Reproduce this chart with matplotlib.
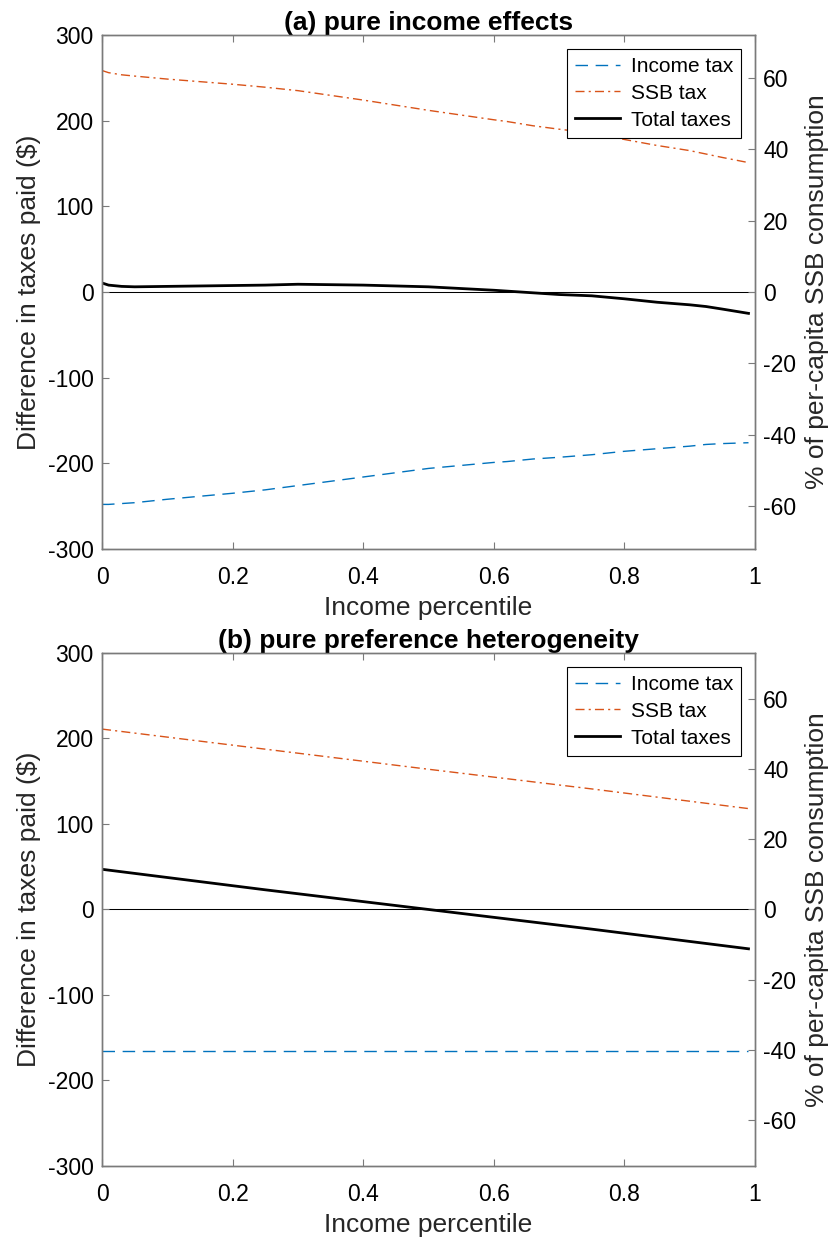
import numpy as np
import matplotlib
matplotlib.use("Agg")
import matplotlib.pyplot as plt

plt.rcParams['font.family'] = ['Liberation Sans', 'DejaVu Sans']
plt.rcParams['axes.unicode_minus'] = False

# panel (a): pure income effects
pctl_a = [0, 0.01, 0.03, 0.05, 0.1, 0.2, 0.25, 0.3, 0.4, 0.5, 0.6, 0.62,
          0.66, 0.7, 0.75, 0.8, 0.85, 0.9, 0.925, 0.95, 0.99]
income_a = [-248, -248, -247, -246, -242, -235, -231, -226, -216, -206, -199, -198,
            -195, -193, -190, -186, -183, -180, -178, -177, -176]
ssb_a = [258.5, 256, 253.5, 252, 248.5, 242.5, 239, 235, 224, 212, 201, 199,
         194, 190, 185.5, 178, 171, 165, 161, 157, 151]
total_a = [10.5, 8, 6.5, 6, 6.5, 7.5, 8, 9, 8, 6, 2, 1,
           -1, -3, -4.5, -8, -12, -15, -17, -20, -25]

# panel (b): pure preference heterogeneity
pctl_b = [0, 0.25, 0.5, 0.75, 0.99]
income_b = [-165, -165, -165, -165, -165]
ssb_b = [211, 187.5, 164, 141, 118]
total_b = [47, 23, 0, -23, -46]

titles = ['(a) pure income effects', '(b) pure preference heterogeneity']
right_lims = [72, 73]
xticks = [0, 0.2, 0.4, 0.6, 0.8, 1]
xticklabels = ['0', '0.2', '0.4', '0.6', '0.8', '1']
yticks = [-300, -200, -100, 0, 100, 200, 300]
rticks = [-60, -40, -20, 0, 20, 40, 60]

BLUE = '#0072BD'
ORANGE = '#D95319'
FRAME = '#7a7a7a'
TXT = '#262626'

fig = plt.figure(figsize=(8.39, 12.4), dpi=100)
boxes = [[0.1216, 0.5573, 0.7783, 0.4145], [0.1216, 0.0597, 0.7783, 0.4137]]
panels = [(pctl_a, income_a, ssb_a, total_a), (pctl_b, income_b, ssb_b, total_b)]

for box, (x, inc, ssb, tot), title, rlim in zip(boxes, panels, titles, right_lims):
    ax = fig.add_axes(box)
    ax.axhline(0, color='black', lw=0.75, zorder=1)
    ax.plot(x, inc, color=BLUE, lw=1.0, dashes=(9, 5.5), label='Income tax')
    ax.plot(x, ssb, color=ORANGE, lw=1.0, dashes=(6.5, 3, 1.5, 3), label='SSB tax')
    ax.plot(x, tot, color='black', lw=2.0, label='Total taxes')
    ax.set_xlim(0, 1)
    ax.set_ylim(-300, 300)
    ax.set_xticks(xticks)
    ax.set_xticklabels(xticklabels)
    ax.set_yticks(yticks)
    ax.tick_params(direction='in', length=5, width=0.8, color=FRAME,
                   labelsize=16.5, labelcolor='black', pad=6, top=True)
    ax.tick_params(axis='x', pad=12.5)
    for s in ax.spines.values():
        s.set_color(FRAME)
        s.set_linewidth(1.0)
    ax.set_xlabel('Income percentile', fontsize=19, color=TXT, labelpad=5)
    ax.set_ylabel('Difference in taxes paid ($)', fontsize=19, color=TXT, labelpad=5)
    ax.set_title(title, fontsize=19, fontweight='bold', pad=2)

    leg = ax.legend(loc='upper right', fontsize=15, frameon=True, fancybox=False,
                    framealpha=1, handlelength=2.2, handletextpad=0.5,
                    labelspacing=0.38, borderpad=0.38, borderaxespad=0.67)
    leg.get_frame().set_edgecolor('black')
    leg.get_frame().set_linewidth(0.8)

    ax2 = ax.twinx()
    ax2.set_ylim(-rlim, rlim)
    ax2.set_yticks(rticks)
    ax2.tick_params(direction='in', length=5, width=0.8, color=FRAME,
                    labelsize=16.5, labelcolor='black', pad=6)
    for s in ax2.spines.values():
        s.set_color(FRAME)
        s.set_linewidth(1.0)
    ax2.set_ylabel('% of per-capita SSB consumption', fontsize=19, color=TXT, labelpad=6)

fig.savefig('out.png', dpi=100)
